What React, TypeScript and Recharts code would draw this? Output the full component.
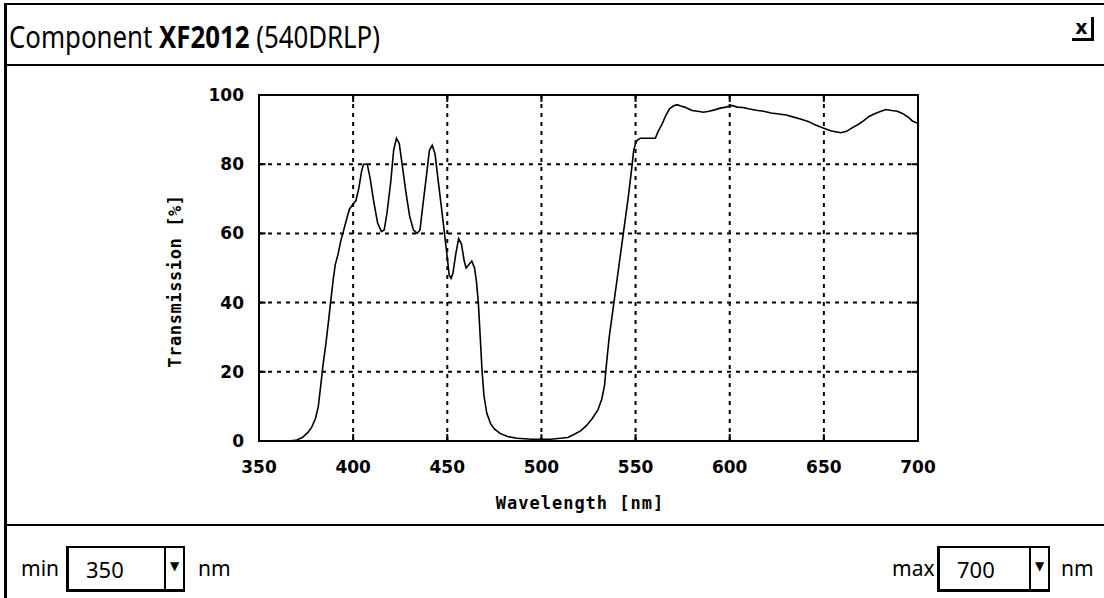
import React from "react";
import { LineChart, Line, XAxis, YAxis, CartesianGrid, ReferenceArea, ReferenceLine } from "recharts";

const wavelengths = [
  366, 370, 373, 376, 378, 380, 381.5, 383, 384, 385.5, 387, 388, 389.5, 390.5, 392, 393.5, 395, 396.5, 398, 400,
  401.5, 403, 404.5, 405.5, 407.5, 409, 411, 413, 415, 416.5, 418, 420, 421.5, 423, 424.5, 426, 428, 430, 432, 434,
  435.5, 437, 439, 440.5, 442, 443.5, 445, 447, 448.5, 450, 451, 452, 453, 454.5, 456, 457.5, 459, 460, 461.5, 463,
  464.5, 465.5, 466.5, 467.5, 468.5, 469.5, 471, 473, 475, 478, 482, 487, 495, 505, 510, 514, 517, 521, 524, 527,
  530, 532, 533.5, 534.5, 536, 538.5, 541, 543.5, 546, 548, 549, 550, 551, 552.5, 557, 560.5, 562, 564, 566, 568,
  570, 572, 574, 576, 578, 580, 583, 586, 589, 592, 595, 598, 601, 604, 607, 610, 614, 618, 622, 626,
  630, 634, 638, 642, 645, 648, 651, 654, 657, 659, 662, 665, 668, 671, 674, 677, 680, 683, 686, 689,
  692, 695, 697, 700,
];
const transmission = [
  0, 0.3, 1, 2.5, 4, 6.5, 10, 17, 22, 28, 35, 40, 47, 51, 54, 58, 61, 64, 67, 68.5,
  69.5, 73, 78, 80, 80, 76, 69, 63, 60.5, 61, 66, 75, 84, 87.5, 86, 80, 72, 65, 61, 60,
  61, 68, 77, 84, 85.5, 83, 76, 67, 60, 53, 48, 47, 48.5, 54, 58.5, 57, 52, 50, 51, 52,
  50, 46, 40, 30, 20, 13, 8, 5, 3.5, 2.2, 1.3, 0.8, 0.5, 0.5, 0.8, 1, 1.8, 3, 4.5, 6.5,
  9, 12, 16, 22, 30, 40, 50, 60, 70, 79, 84, 86, 87, 87.5, 87.5, 87.5, 89.5, 91.5, 94, 96,
  96.8, 97.2, 96.8, 96.5, 96, 95.5, 95.3, 95, 95.3, 95.7, 96.2, 96.5, 97, 96.5, 96.4, 96, 95.6, 95.3, 94.8, 94.5,
  94.2, 93.6, 93, 92.3, 91.5, 90.8, 90.2, 89.6, 89.3, 89.1, 89.5, 90.5, 91.4, 92.5, 93.8, 94.6, 95.2, 95.8, 95.5, 95.3,
  94.6, 93.5, 92.5, 91.8,
];
const xTicks = [350, 400, 450, 500, 550, 600, 650, 700];
const yTicks = [0, 20, 40, 60, 80, 100];
const xMin = 350;
const xMax = 700;
const yMin = 0;
const yMax = 100;
const xTickLen = 3.5; // in nm
const yTickLen = 2; // in %

const data = wavelengths.map((wl, i) => ({ wl, t: transmission[i] }));

const tickStyle = {
  fontFamily: "'DejaVu Sans', sans-serif",
  fontWeight: 700,
  fontSize: 17,
  fill: "#000",
};

const uiFont = "'Noto Sans', 'DejaVu Sans', sans-serif";

function Select({ left, top, width, value }: { left: number; top: number; width: number; value: string }) {
  return (
    <div
      style={{
        position: "absolute",
        left,
        top,
        width,
        height: 46,
        borderTop: "2px solid #000",
        borderRight: "2px solid #000",
        borderBottom: "3px solid #000",
        borderLeft: "3px solid #000",
        boxSizing: "border-box",
        fontFamily: uiFont,
        fontSize: 22,
      }}
    >
      <div style={{ position: "absolute", left: 17, top: 6, lineHeight: "30px" }}>{value}</div>
      <div
        style={{
          position: "absolute",
          right: 0,
          top: 0,
          width: 17,
          height: 41,
          borderLeft: "2px solid #000",
          fontSize: 12,
          lineHeight: "36px",
          textAlign: "center",
        }}
      >
        ▼
      </div>
    </div>
  );
}

export default function App() {
  return (
    <div
      style={{
        position: "absolute",
        left: 0,
        top: 0,
        width: 1104,
        height: 598,
        background: "#fff",
        overflow: "hidden",
        color: "#000",
      }}
    >
      {/* frame lines */}
      <div style={{ position: "absolute", left: 4, top: 3, width: 3, height: 595, background: "#000" }} />
      <div style={{ position: "absolute", left: 4, top: 3, width: 1100, height: 2, background: "#000" }} />
      <div style={{ position: "absolute", left: 4, top: 64, width: 1100, height: 2, background: "#000" }} />
      <div style={{ position: "absolute", left: 4, top: 524, width: 1100, height: 2, background: "#000" }} />

      {/* title */}
      <div
        style={{
          position: "absolute",
          left: 9,
          top: 17,
          fontFamily: uiFont,
          fontSize: 30,
          lineHeight: "40px",
          whiteSpace: "nowrap",
          transform: "scaleX(0.86)",
          transformOrigin: "0 0",
        }}
      >
        Component <b>XF2012</b> (540DRLP)
      </div>
      {/* close icon */}
      <div
        style={{
          position: "absolute",
          left: 1072,
          top: 17,
          width: 19,
          height: 21,
          borderRight: "3px solid #000",
          borderBottom: "3px solid #000",
          fontFamily: "'DejaVu Sans', sans-serif",
          fontWeight: 700,
          fontSize: 19,
          lineHeight: "20px",
          textAlign: "center",
        }}
      >
        x
      </div>

      <div style={{ position: "absolute", left: 0, top: 0 }}>
        <LineChart width={1104} height={598} data={data} margin={{ top: 95, right: 186, bottom: 127, left: 209 }}>
          <CartesianGrid stroke="#000" strokeWidth={2} strokeDasharray="4 5" />
          <XAxis
            dataKey="wl"
            type="number"
            domain={[xMin, xMax]}
            ticks={xTicks}
            height={30}
            tickSize={0}
            tickMargin={20}
            axisLine={false}
            tick={tickStyle}
            interval={0}
          />
          <YAxis
            type="number"
            domain={[yMin, yMax]}
            ticks={yTicks}
            width={50}
            tickSize={0}
            tickMargin={15}
            axisLine={false}
            tick={tickStyle}
            interval={0}
          />
          {yTicks.map((v) => (
            <ReferenceLine
              key={`yl${v}`}
              segment={[{ x: xMin, y: v }, { x: xMin + xTickLen, y: v }]}
              stroke="#000"
              strokeWidth={2}
            />
          ))}
          {yTicks.map((v) => (
            <ReferenceLine
              key={`yr${v}`}
              segment={[{ x: xMax - xTickLen, y: v }, { x: xMax, y: v }]}
              stroke="#000"
              strokeWidth={2}
            />
          ))}
          {xTicks.map((v) => (
            <ReferenceLine
              key={`xb${v}`}
              segment={[{ x: v, y: yMin }, { x: v, y: yMin + yTickLen }]}
              stroke="#000"
              strokeWidth={2}
            />
          ))}
          {xTicks.map((v) => (
            <ReferenceLine
              key={`xt${v}`}
              segment={[{ x: v, y: yMax - yTickLen }, { x: v, y: yMax }]}
              stroke="#000"
              strokeWidth={2}
            />
          ))}
          <ReferenceArea x1={xMin} x2={xMax} y1={yMin} y2={yMax} stroke="#000" strokeWidth={2} fill="none" fillOpacity={0} />
          <Line
            type="linear"
            dataKey="t"
            stroke="#000"
            strokeWidth={1.6}
            dot={false}
            isAnimationActive={false}
          />
        </LineChart>
      </div>

      {/* axis titles */}
      <div
        style={{
          position: "absolute",
          left: 580,
          top: 503,
          transform: "translate(-50%, -50%)",
          fontFamily: "'DejaVu Sans Mono', monospace",
          fontWeight: 700,
          fontSize: 17,
          letterSpacing: 1,
          whiteSpace: "nowrap",
        }}
      >
        Wavelength [nm]
      </div>
      <div
        style={{
          position: "absolute",
          left: 175,
          top: 281,
          transform: "translate(-50%, -50%) rotate(-90deg)",
          fontFamily: "'DejaVu Sans Mono', monospace",
          fontWeight: 700,
          fontSize: 17,
          letterSpacing: 0.6,
          whiteSpace: "nowrap",
        }}
      >
        Transmission [%]
      </div>

      {/* controls */}
      <div style={{ position: "absolute", left: 21, top: 553, fontFamily: uiFont, fontSize: 21, lineHeight: "30px" }}>min</div>
      <Select left={66} top={546} width={119} value="350" />
      <div style={{ position: "absolute", left: 198, top: 553, fontFamily: uiFont, fontSize: 21, lineHeight: "30px" }}>nm</div>

      <div style={{ position: "absolute", left: 892, top: 553, fontFamily: uiFont, fontSize: 21, lineHeight: "30px" }}>max</div>
      <Select left={937} top={546} width={113} value="700" />
      <div style={{ position: "absolute", left: 1061, top: 553, fontFamily: uiFont, fontSize: 21, lineHeight: "30px" }}>nm</div>
    </div>
  );
}
